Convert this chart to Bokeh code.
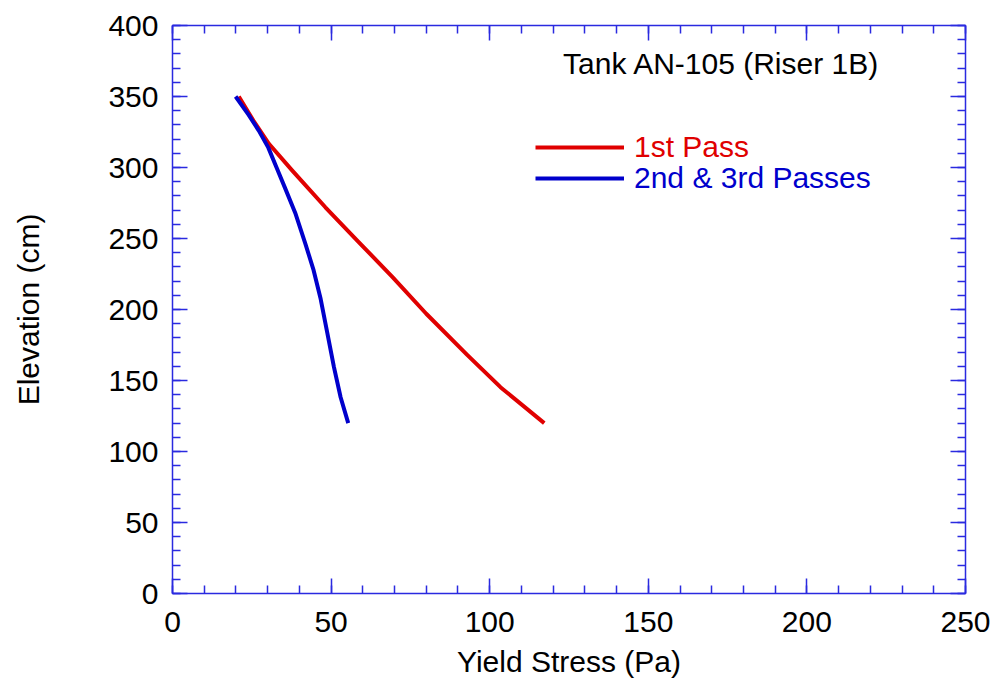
from bokeh.plotting import figure
from bokeh.models import (Range1d, LinearAxis, SingleIntervalTicker, Legend, LegendItem, Label,
                          CustomLabelingPolicy)
from bokeh.embed import file_html
from bokeh.resources import INLINE

# Data
first_pass_stress = [20.9, 25.5, 30.4, 37.7, 48.2, 58.7, 69.3, 80.0, 92.9, 103.4, 117.2]
first_pass_elev = [350, 333, 316.7, 298, 272, 247.5, 223, 197, 168, 145.3, 120]
later_pass_stress = [19.9, 24.0, 27.2, 30.2, 32.8, 35.4, 38.8, 41.9, 44.5, 46.7, 48.8, 50.9, 53.0, 55.4]
later_pass_elev = [350, 337, 326, 314, 300, 286, 267.4, 246.3, 227.5, 207.5, 183.5, 159.4, 138.2, 120]
series_names = ["1st Pass", "2nd & 3rd Passes"]
title_text = "Tank AN-105 (Riser 1B)"

RED = "#e00000"
BLUE = "#0000cc"
AXIS = "#2a2ae0"
FONT = "Liberation Sans"
FS = "30px"

p = figure(width=998, height=691, output_backend="svg", toolbar_location=None,
           x_range=Range1d(0, 250), y_range=Range1d(0, 400),
           x_axis_location=None, y_axis_location=None,
           min_border_left=172, min_border_right=33, min_border_top=25, min_border_bottom=98)
p.outline_line_color = None
p.xgrid.visible = False
p.ygrid.visible = False
p.background_fill_color = "white"
p.border_fill_color = "white"

hide_labels = CustomLabelingPolicy(code="const all = [...indices]; for (const i of all) indices.unset(i); return indices;")


def style(ax, labels=True):
    ax.axis_line_color = AXIS
    ax.axis_line_width = 1.5
    ax.major_tick_line_color = AXIS
    ax.minor_tick_line_color = AXIS
    ax.major_tick_line_width = 1.5
    ax.minor_tick_line_width = 1.5
    ax.major_tick_in = 15
    ax.major_tick_out = 0
    ax.minor_tick_in = 8
    ax.minor_tick_out = 0
    ax.major_label_text_font = FONT
    ax.major_label_text_font_size = FS
    ax.major_label_text_color = "black"
    ax.axis_label_text_font = FONT
    ax.axis_label_text_font_size = FS
    ax.axis_label_text_font_style = "normal"
    ax.axis_label_text_color = "black"
    if not labels:
        ax.major_label_policy = hide_labels
        ax.major_label_text_font_size = "0px"
        ax.major_label_standoff = 0


xb = LinearAxis(ticker=SingleIntervalTicker(interval=50, num_minor_ticks=5), axis_label="Yield Stress (Pa)")
style(xb)
xb.major_label_standoff = 18
xb.axis_label_standoff = 10
yl = LinearAxis(ticker=SingleIntervalTicker(interval=50, num_minor_ticks=5), axis_label="Elevation (cm)")
style(yl)
yl.major_label_standoff = 14
yl.axis_label_standoff = 60
xt = LinearAxis(ticker=SingleIntervalTicker(interval=50, num_minor_ticks=5))
style(xt, labels=False)
yr = LinearAxis(ticker=SingleIntervalTicker(interval=50, num_minor_ticks=5))
style(yr, labels=False)
p.add_layout(xb, "below")
p.add_layout(yl, "left")
p.add_layout(xt, "above")
p.add_layout(yr, "right")

r1 = p.line(first_pass_stress, first_pass_elev, line_color=RED, line_width=4, line_join="round")
r2 = p.line(later_pass_stress, later_pass_elev, line_color=BLUE, line_width=4, line_join="round")

for r, name, col, yloc in [(r1, series_names[0], RED, 429), (r2, series_names[1], BLUE, 398)]:
    lg = Legend(items=[LegendItem(label=name, renderers=[r])], location=(363, yloc),
                glyph_width=89, glyph_height=20, label_standoff=10, padding=0, margin=0,
                border_line_color=None, background_fill_alpha=0,
                label_text_font=FONT, label_text_font_size=FS, label_text_color=col)
    p.add_layout(lg, "center")

p.add_layout(Label(x=549, y=530, x_units="screen", y_units="screen", text=title_text,
                   text_align="center", text_baseline="middle", text_font=FONT,
                   text_font_size=FS, text_color="black"))

open("out.html", "w").write(file_html(p, INLINE))
